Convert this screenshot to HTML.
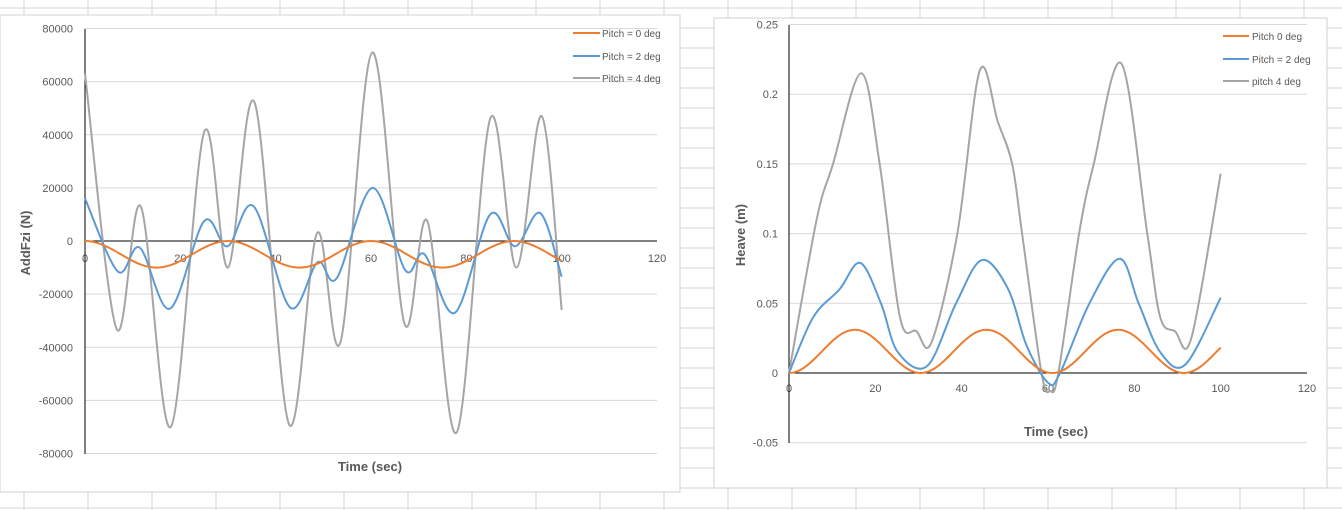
<!DOCTYPE html>
<html><head><meta charset="utf-8"><style>
body{margin:0;width:1342px;height:510px;overflow:hidden;background:#fff;font-family:"Liberation Sans",sans-serif}
svg{position:absolute;left:0;top:0}
text{font-family:"Liberation Sans",sans-serif}
</style></head><body>
<svg id="s" width="1342" height="510" xmlns="http://www.w3.org/2000/svg"></svg>
<script>
const s=document.getElementById('s');let h='';
// spreadsheet grid
for(let x=24;x<1342;x+=64)h+=`<line x1="${x}" y1="0" x2="${x}" y2="510" stroke="#d4d4d4"/>`;
for(let y=8;y<510;y+=20)h+=`<line x1="0" y1="${y}" x2="1342" y2="${y}" stroke="#d4d4d4"/>`;
h+=`<rect x="0" y="15" width="680" height="477" fill="#fff" stroke="#d0d0d0"/>`;
h+=`<rect x="714" y="18" width="613" height="470" fill="#fff" stroke="#d0d0d0"/>`;
function cr(pts){let d=`M${pts[0][0]},${pts[0][1]}`;for(let i=0;i<pts.length-1;i++){const p0=pts[Math.max(0,i-1)],p1=pts[i],p2=pts[i+1],p3=pts[Math.min(pts.length-1,i+2)];d+=`C${p1[0]+(p2[0]-p0[0])/6},${p1[1]+(p2[1]-p0[1])/6} ${p2[0]-(p3[0]-p1[0])/6},${p2[1]-(p3[1]-p1[1])/6} ${p2[0]},${p2[1]}`;}return d;}
// LEFT chart
const LX=t=>85+t*4.767,LY=v=>241-v*(212.5/80000);
for(let v=-80000;v<=80000;v+=20000){const y=LY(v);if(v!=0)h+=`<line x1="85" y1="${y}" x2="657" y2="${y}" stroke="#d9d9d9"/>`;h+=`<text x="73" y="${y+4}" font-size="11" fill="#595959" text-anchor="end">${v}</text>`;}
for(let t=0;t<=120;t+=20)h+=`<text x="${LX(t)}" y="262" font-size="11" fill="#595959" text-anchor="middle">${t}</text>`;
h+=`<line x1="85" y1="29" x2="85" y2="454" stroke="#000"/><line x1="85" y1="241" x2="657" y2="241" stroke="#000"/>`;
let o=[];for(let t=0;t<=100;t+=1)o.push([LX(t),LY(-5000*(1-Math.cos(2*Math.PI*t/30)))]);
const lb=[[0,16000],[6.9,-11500],[11.5,-2500],[17.8,-25500],[25,7500],[29.9,-2000],[35.4,13000],[43,-25000],[48.8,-8000],[52.8,-14000],[60.3,20000],[67.2,-11000],[71.2,-5000],[77.6,-27000],[85,10000],[90.2,-2000],[95.5,10500],[100,-13500]].map(p=>[LX(p[0]),LY(p[1])]);
const lg=[[0,63000],[6.6,-33000],[11.7,13000],[18,-70000],[25,41000],[30,-10000],[35.6,52000],[42.8,-69000],[48.7,3000],[53.6,-38000],[60.3,71000],[67,-31000],[71.8,7500],[78,-72000],[85,46000],[90.5,-10000],[95.8,47000],[100,-26000]].map(p=>[LX(p[0]),LY(p[1])]);
h+=`<path d="${cr(lg)}" fill="none" stroke="#a5a5a5" stroke-width="2"/><path d="${cr(lb)}" fill="none" stroke="#5b9bd5" stroke-width="2"/><path d="${cr(o)}" fill="none" stroke="#ed7d31" stroke-width="2"/>`;
h+=`<text x="30" y="243" font-size="13" font-weight="bold" fill="#595959" text-anchor="middle" transform="rotate(-90 30 243)">AddFzi (N)</text>`;
h+=`<text x="370" y="471" font-size="13" font-weight="bold" fill="#595959" text-anchor="middle">Time (sec)</text>`;
[["Pitch = 0 deg","#ed7d31",33],["Pitch  = 2 deg","#5b9bd5",56],["Pitch = 4 deg","#a5a5a5",78]].forEach(a=>{h+=`<line x1="573" y1="${a[2]}" x2="600" y2="${a[2]}" stroke="${a[1]}" stroke-width="2"/><text x="602" y="${a[2]+4}" font-size="10" fill="#595959">${a[0]}</text>`;});
// RIGHT chart
const RX=t=>789+t*(518/120),RY=v=>373-v*(69.7/0.05);
for(let i=-1;i<=5;i++){const v=i*0.05,y=RY(v);if(i!=0)h+=`<line x1="789" y1="${y}" x2="1307" y2="${y}" stroke="#d9d9d9"/>`;h+=`<text x="778" y="${y+4}" font-size="11" fill="#595959" text-anchor="end">${i==0?'0':(+v.toFixed(2))}</text>`;}
for(let t=0;t<=120;t+=20)h+=`<text x="${RX(t)}" y="392" font-size="11" fill="#595959" text-anchor="middle">${t}</text>`;
h+=`<line x1="789" y1="25" x2="789" y2="443" stroke="#000"/><line x1="789" y1="373" x2="1307" y2="373" stroke="#000"/>`;
let ro=[];for(let t=0;t<=100;t+=1)ro.push([RX(t),RY(0.0155*(1-Math.cos(2*Math.PI*t/30.5)))]);
const rb=[[0,0],[5.6,0.04],[11.7,0.06],[16.5,0.079],[21.3,0.05],[25.2,0.015],[32,0.005],[38.7,0.05],[44.7,0.081],[50.8,0.06],[55,0.02],[60,-0.007],[62.8,0],[69.6,0.05],[76.6,0.082],[81,0.05],[86,0.015],[91.8,0.006],[100,0.054]].map(p=>[RX(p[0]),RY(p[1])]);
const rg=[[0,0],[6.4,0.11],[10.2,0.15],[16.7,0.215],[21,0.15],[25.7,0.04],[29.5,0.03],[33,0.022],[39,0.1],[44.2,0.217],[48.4,0.18],[51.7,0.15],[54,0.1],[58.5,0],[60.5,-0.013],[62.4,0],[67.2,0.1],[70.6,0.15],[77,0.222],[83,0.1],[86,0.04],[89.4,0.03],[93.2,0.025],[100,0.143]].map(p=>[RX(p[0]),RY(p[1])]);
h+=`<path d="${cr(rg)}" fill="none" stroke="#a5a5a5" stroke-width="2"/><path d="${cr(rb)}" fill="none" stroke="#5b9bd5" stroke-width="2"/><path d="${cr(ro)}" fill="none" stroke="#ed7d31" stroke-width="2"/>`;
h+=`<text x="745" y="235" font-size="13" font-weight="bold" fill="#595959" text-anchor="middle" transform="rotate(-90 745 235)">Heave (m)</text>`;
h+=`<text x="1056" y="436" font-size="13" font-weight="bold" fill="#595959" text-anchor="middle">Time (sec)</text>`;
[["Pitch 0 deg","#ed7d31",36],["Pitch = 2 deg","#5b9bd5",59],["pitch 4 deg","#a5a5a5",81]].forEach(a=>{h+=`<line x1="1223" y1="${a[2]}" x2="1249" y2="${a[2]}" stroke="${a[1]}" stroke-width="2"/><text x="1252" y="${a[2]+4}" font-size="10" fill="#595959">${a[0]}</text>`;});
s.innerHTML=h;
</script>
</body></html>
